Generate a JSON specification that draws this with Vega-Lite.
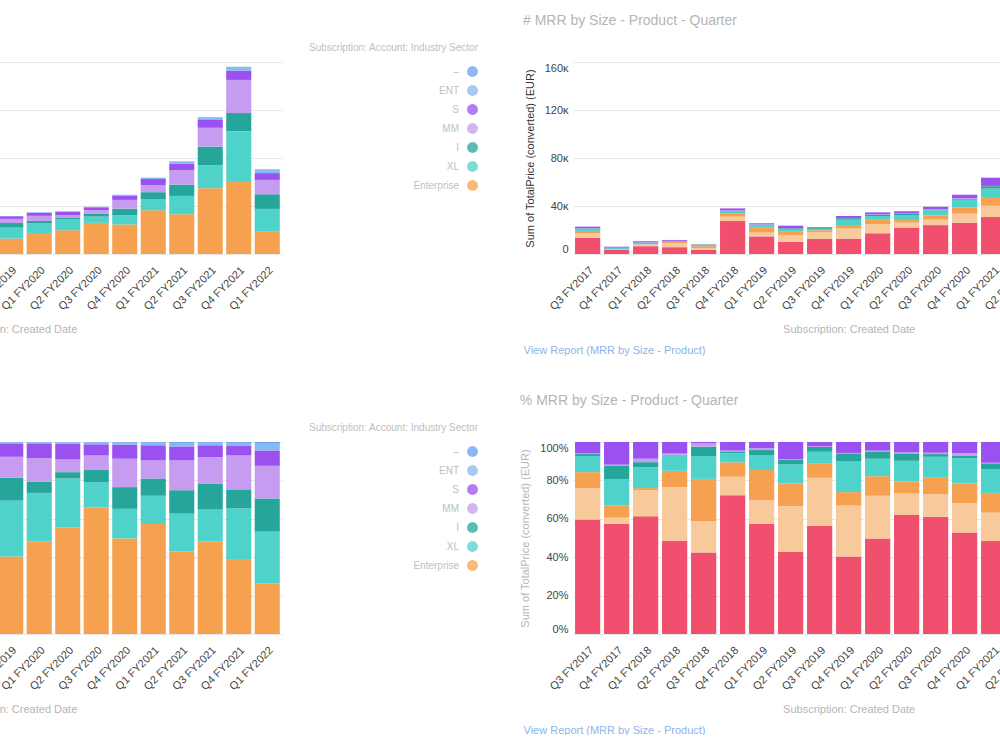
{
  "$schema": "https://vega.github.io/schema/vega-lite/v6.json",
  "padding": {"left": -314, "right": -117, "top": -5, "bottom": 0},
  "background": "white",
  "config": {
    "font": "Liberation Sans",
    "view": {"stroke": null},
    "title": {"anchor": "start", "fontSize": 14, "fontWeight": "normal", "color": "#b5b5b5", "offset": 34},
    "axis": {"labelColor": "#444444", "labelFontSize": 11, "titleFontSize": 11, "titleFontWeight": "normal", "domain": false, "ticks": false, "gridColor": "#e8e8e8"},
    "axisX": {"labelAngle": -45, "grid": false, "labelPadding": 10, "titleColor": "#b5b5b5", "titlePadding": 12},
    "axisY": {"labelPadding": 5, "titleColor": "#333333", "titlePadding": 9, "labelFlush": true},
    "legend": {"orient": "none", "legendX": 568, "legendY": -19, "titleFontSize": 10, "titleColor": "#c0c0c0", "titleFontWeight": "normal", "titleAnchor": "end", "labelAlign": "right", "labelOffset": -20, "labelFontSize": 10, "labelColor": "#c0c0c0", "symbolType": "circle", "symbolSize": 120, "symbolOpacity": 0.75, "rowPadding": 7, "titlePadding": 12}
  },
  "datasets": {
    "industry": [
      {"q":"Q3 FY2017","g":"Enterprise","v":11856},{"q":"Q3 FY2017","g":"XL","v":5472},{"q":"Q3 FY2017","g":"I","v":1824},{"q":"Q3 FY2017","g":"MM","v":2052},{"q":"Q3 FY2017","g":"S","v":1368},{"q":"Q3 FY2017","g":"ENT","v":182},{"q":"Q3 FY2017","g":"–","v":46},
      {"q":"Q4 FY2017","g":"Enterprise","v":2745},{"q":"Q4 FY2017","g":"XL","v":1708},{"q":"Q4 FY2017","g":"I","v":610},{"q":"Q4 FY2017","g":"MM","v":549},{"q":"Q4 FY2017","g":"S","v":427},{"q":"Q4 FY2017","g":"ENT","v":49},{"q":"Q4 FY2017","g":"–","v":12},
      {"q":"Q1 FY2018","g":"Enterprise","v":5300},{"q":"Q1 FY2018","g":"XL","v":2332},{"q":"Q1 FY2018","g":"I","v":954},{"q":"Q1 FY2018","g":"MM","v":1166},{"q":"Q1 FY2018","g":"S","v":742},{"q":"Q1 FY2018","g":"ENT","v":85},{"q":"Q1 FY2018","g":"–","v":21},
      {"q":"Q2 FY2018","g":"Enterprise","v":5499},{"q":"Q2 FY2018","g":"XL","v":2925},{"q":"Q2 FY2018","g":"I","v":1287},{"q":"Q2 FY2018","g":"MM","v":1170},{"q":"Q2 FY2018","g":"S","v":702},{"q":"Q2 FY2018","g":"ENT","v":94},{"q":"Q2 FY2018","g":"–","v":23},
      {"q":"Q3 FY2018","g":"Enterprise","v":3564},{"q":"Q3 FY2018","g":"XL","v":2187},{"q":"Q3 FY2018","g":"I","v":810},{"q":"Q3 FY2018","g":"MM","v":972},{"q":"Q3 FY2018","g":"S","v":486},{"q":"Q3 FY2018","g":"ENT","v":65},{"q":"Q3 FY2018","g":"–","v":16},
      {"q":"Q4 FY2018","g":"Enterprise","v":22800},{"q":"Q4 FY2018","g":"XL","v":6840},{"q":"Q4 FY2018","g":"I","v":3040},{"q":"Q4 FY2018","g":"MM","v":3040},{"q":"Q4 FY2018","g":"S","v":1900},{"q":"Q4 FY2018","g":"ENT","v":304},{"q":"Q4 FY2018","g":"–","v":76},
      {"q":"Q1 FY2019","g":"Enterprise","v":13568},{"q":"Q1 FY2019","g":"XL","v":5376},{"q":"Q1 FY2019","g":"I","v":2304},{"q":"Q1 FY2019","g":"MM","v":2560},{"q":"Q1 FY2019","g":"S","v":1536},{"q":"Q1 FY2019","g":"ENT","v":205},{"q":"Q1 FY2019","g":"–","v":51},
      {"q":"Q2 FY2019","g":"Enterprise","v":10856},{"q":"Q2 FY2019","g":"XL","v":5664},{"q":"Q2 FY2019","g":"I","v":2596},{"q":"Q2 FY2019","g":"MM","v":2596},{"q":"Q2 FY2019","g":"S","v":1652},{"q":"Q2 FY2019","g":"ENT","v":189},{"q":"Q2 FY2019","g":"–","v":47},
      {"q":"Q3 FY2019","g":"Enterprise","v":11100},{"q":"Q3 FY2019","g":"XL","v":5106},{"q":"Q3 FY2019","g":"I","v":2220},{"q":"Q3 FY2019","g":"MM","v":2220},{"q":"Q3 FY2019","g":"S","v":1332},{"q":"Q3 FY2019","g":"ENT","v":178},{"q":"Q3 FY2019","g":"–","v":44},
      {"q":"Q4 FY2019","g":"Enterprise","v":12807},{"q":"Q4 FY2019","g":"XL","v":9225},{"q":"Q4 FY2019","g":"I","v":3772},{"q":"Q4 FY2019","g":"MM","v":3455},{"q":"Q4 FY2019","g":"S","v":2219},{"q":"Q4 FY2019","g":"ENT","v":178},{"q":"Q4 FY2019","g":"–","v":44},
      {"q":"Q1 FY2020","g":"Enterprise","v":16760},{"q":"Q1 FY2020","g":"XL","v":8744},{"q":"Q1 FY2020","g":"I","v":2047},{"q":"Q1 FY2020","g":"MM","v":4233},{"q":"Q1 FY2020","g":"S","v":2672},{"q":"Q1 FY2020","g":"ENT","v":194},{"q":"Q1 FY2020","g":"–","v":49},
      {"q":"Q2 FY2020","g":"Enterprise","v":19794},{"q":"Q2 FY2020","g":"XL","v":9042},{"q":"Q2 FY2020","g":"I","v":1175},{"q":"Q2 FY2020","g":"MM","v":2350},{"q":"Q2 FY2020","g":"S","v":2884},{"q":"Q2 FY2020","g":"ENT","v":285},{"q":"Q2 FY2020","g":"–","v":71},
      {"q":"Q3 FY2020","g":"Enterprise","v":25965},{"q":"Q3 FY2020","g":"XL","v":5201},{"q":"Q3 FY2020","g":"I","v":2600},{"q":"Q3 FY2020","g":"MM","v":2876},{"q":"Q3 FY2020","g":"S","v":2285},{"q":"Q3 FY2020","g":"ENT","v":378},{"q":"Q3 FY2020","g":"–","v":95},
      {"q":"Q4 FY2020","g":"Enterprise","v":24601},{"q":"Q4 FY2020","g":"XL","v":7608},{"q":"Q4 FY2020","g":"I","v":5582},{"q":"Q4 FY2020","g":"MM","v":7311},{"q":"Q4 FY2020","g":"S","v":3606},{"q":"Q4 FY2020","g":"ENT","v":554},{"q":"Q4 FY2020","g":"–","v":138},
      {"q":"Q1 FY2021","g":"Enterprise","v":36443},{"q":"Q1 FY2021","g":"XL","v":9349},{"q":"Q1 FY2021","g":"I","v":5724},{"q":"Q1 FY2021","g":"MM","v":5978},{"q":"Q1 FY2021","g":"S","v":5024},{"q":"Q1 FY2021","g":"ENT","v":865},{"q":"Q1 FY2021","g":"–","v":216},
      {"q":"Q2 FY2021","g":"Enterprise","v":33196},{"q":"Q2 FY2021","g":"XL","v":15208},{"q":"Q2 FY2021","g":"I","v":9418},{"q":"Q2 FY2021","g":"MM","v":11966},{"q":"Q2 FY2021","g":"S","v":5636},{"q":"Q2 FY2021","g":"ENT","v":1421},{"q":"Q2 FY2021","g":"–","v":355},
      {"q":"Q3 FY2021","g":"Enterprise","v":54882},{"q":"Q3 FY2021","g":"XL","v":19055},{"q":"Q3 FY2021","g":"I","v":15518},{"q":"Q3 FY2021","g":"MM","v":15746},{"q":"Q3 FY2021","g":"S","v":6960},{"q":"Q3 FY2021","g":"ENT","v":1552},{"q":"Q3 FY2021","g":"–","v":388},
      {"q":"Q4 FY2021","g":"Enterprise","v":60840},{"q":"Q4 FY2021","g":"XL","v":41340},{"q":"Q4 FY2021","g":"I","v":15288},{"q":"Q4 FY2021","g":"MM","v":27612},{"q":"Q4 FY2021","g":"S","v":7644},{"q":"Q4 FY2021","g":"ENT","v":2621},{"q":"Q4 FY2021","g":"–","v":655},
      {"q":"Q1 FY2022","g":"Enterprise","v":18542},{"q":"Q1 FY2022","g":"XL","v":19035},{"q":"Q1 FY2022","g":"I","v":12197},{"q":"Q1 FY2022","g":"MM","v":11985},{"q":"Q1 FY2022","g":"S","v":5640},{"q":"Q1 FY2022","g":"ENT","v":2482},{"q":"Q1 FY2022","g":"–","v":620}
    ],
    "size": [
      {"q":"Q3 FY2017","g":"Large - Platform","v":13589},{"q":"Q3 FY2017","g":"Large - Add-on","v":3739},{"q":"Q3 FY2017","g":"Medium - Platform","v":1892},{"q":"Q3 FY2017","g":"Medium - Add-on","v":1915},{"q":"Q3 FY2017","g":"Small - Platform","v":228},{"q":"Q3 FY2017","g":"Small - Add-on","v":68},{"q":"Q3 FY2017","g":"Other","v":1368},
      {"q":"Q4 FY2017","g":"Large - Platform","v":3495},{"q":"Q4 FY2017","g":"Large - Add-on","v":201},{"q":"Q4 FY2017","g":"Medium - Platform","v":390},{"q":"Q4 FY2017","g":"Medium - Add-on","v":824},{"q":"Q4 FY2017","g":"Small - Platform","v":427},{"q":"Q4 FY2017","g":"Small - Add-on","v":43},{"q":"Q4 FY2017","g":"Other","v":720},
      {"q":"Q1 FY2018","g":"Large - Platform","v":6498},{"q":"Q1 FY2018","g":"Large - Add-on","v":1442},{"q":"Q1 FY2018","g":"Medium - Platform","v":117},{"q":"Q1 FY2018","g":"Medium - Add-on","v":1155},{"q":"Q1 FY2018","g":"Small - Platform","v":276},{"q":"Q1 FY2018","g":"Small - Add-on","v":191},{"q":"Q1 FY2018","g":"Other","v":922},
      {"q":"Q2 FY2018","g":"Large - Platform","v":5686},{"q":"Q2 FY2018","g":"Large - Add-on","v":3264},{"q":"Q2 FY2018","g":"Medium - Platform","v":995},{"q":"Q2 FY2018","g":"Medium - Add-on","v":936},{"q":"Q2 FY2018","g":"Small - Platform","v":47},{"q":"Q2 FY2018","g":"Small - Add-on","v":70},{"q":"Q2 FY2018","g":"Other","v":702},
      {"q":"Q3 FY2018","g":"Large - Platform","v":3443},{"q":"Q3 FY2018","g":"Large - Add-on","v":1328},{"q":"Q3 FY2018","g":"Medium - Platform","v":1774},{"q":"Q3 FY2018","g":"Medium - Add-on","v":964},{"q":"Q3 FY2018","g":"Small - Platform","v":397},{"q":"Q3 FY2018","g":"Small - Add-on","v":138},{"q":"Q3 FY2018","g":"Other","v":57},
      {"q":"Q4 FY2018","g":"Large - Platform","v":27474},{"q":"Q4 FY2018","g":"Large - Add-on","v":3648},{"q":"Q4 FY2018","g":"Medium - Platform","v":2850},{"q":"Q4 FY2018","g":"Medium - Add-on","v":1786},{"q":"Q4 FY2018","g":"Small - Platform","v":266},{"q":"Q4 FY2018","g":"Small - Add-on","v":266},{"q":"Q4 FY2018","g":"Other","v":1710},
      {"q":"Q1 FY2019","g":"Large - Platform","v":14669},{"q":"Q1 FY2019","g":"Large - Add-on","v":3174},{"q":"Q1 FY2019","g":"Medium - Platform","v":4019},{"q":"Q1 FY2019","g":"Medium - Add-on","v":1997},{"q":"Q1 FY2019","g":"Small - Platform","v":666},{"q":"Q1 FY2019","g":"Small - Add-on","v":230},{"q":"Q1 FY2019","g":"Other","v":845},
      {"q":"Q2 FY2019","g":"Large - Platform","v":10124},{"q":"Q2 FY2019","g":"Large - Add-on","v":5593},{"q":"Q2 FY2019","g":"Medium - Platform","v":2785},{"q":"Q2 FY2019","g":"Medium - Add-on","v":2336},{"q":"Q2 FY2019","g":"Small - Platform","v":590},{"q":"Q2 FY2019","g":"Small - Add-on","v":47},{"q":"Q2 FY2019","g":"Other","v":2124},
      {"q":"Q3 FY2019","g":"Large - Platform","v":12521},{"q":"Q3 FY2019","g":"Large - Add-on","v":5550},{"q":"Q3 FY2019","g":"Medium - Platform","v":1621},{"q":"Q3 FY2019","g":"Medium - Add-on","v":1376},{"q":"Q3 FY2019","g":"Small - Platform","v":555},{"q":"Q3 FY2019","g":"Small - Add-on","v":111},{"q":"Q3 FY2019","g":"Other","v":466},
      {"q":"Q4 FY2019","g":"Large - Platform","v":12807},{"q":"Q4 FY2019","g":"Large - Add-on","v":8401},{"q":"Q4 FY2019","g":"Medium - Platform","v":2219},{"q":"Q4 FY2019","g":"Medium - Add-on","v":5135},{"q":"Q4 FY2019","g":"Small - Platform","v":1268},{"q":"Q4 FY2019","g":"Small - Add-on","v":63},{"q":"Q4 FY2019","g":"Other","v":1807},
      {"q":"Q1 FY2020","g":"Large - Platform","v":17281},{"q":"Q1 FY2020","g":"Large - Add-on","v":7703},{"q":"Q1 FY2020","g":"Medium - Platform","v":3539},{"q":"Q1 FY2020","g":"Medium - Add-on","v":3158},{"q":"Q1 FY2020","g":"Small - Platform","v":1215},{"q":"Q1 FY2020","g":"Small - Add-on","v":243},{"q":"Q1 FY2020","g":"Other","v":1562},
      {"q":"Q2 FY2020","g":"Large - Platform","v":22072},{"q":"Q2 FY2020","g":"Large - Add-on","v":3987},{"q":"Q2 FY2020","g":"Medium - Platform","v":2207},{"q":"Q2 FY2020","g":"Medium - Add-on","v":3845},{"q":"Q2 FY2020","g":"Small - Platform","v":1388},{"q":"Q2 FY2020","g":"Small - Add-on","v":249},{"q":"Q2 FY2020","g":"Other","v":1851},
      {"q":"Q3 FY2020","g":"Large - Platform","v":24073},{"q":"Q3 FY2020","g":"Large - Add-on","v":4610},{"q":"Q3 FY2020","g":"Medium - Platform","v":3388},{"q":"Q3 FY2020","g":"Medium - Add-on","v":4295},{"q":"Q3 FY2020","g":"Small - Platform","v":552},{"q":"Q3 FY2020","g":"Small - Add-on","v":276},{"q":"Q3 FY2020","g":"Other","v":2206},
      {"q":"Q4 FY2020","g":"Large - Platform","v":26083},{"q":"Q4 FY2020","g":"Large - Add-on","v":7558},{"q":"Q4 FY2020","g":"Medium - Platform","v":5088},{"q":"Q4 FY2020","g":"Medium - Add-on","v":6521},{"q":"Q4 FY2020","g":"Small - Platform","v":692},{"q":"Q4 FY2020","g":"Small - Add-on","v":543},{"q":"Q4 FY2020","g":"Other","v":2915},
      {"q":"Q1 FY2021","g":"Large - Platform","v":30782},{"q":"Q1 FY2021","g":"Large - Add-on","v":9413},{"q":"Q1 FY2021","g":"Medium - Platform","v":6551},{"q":"Q1 FY2021","g":"Medium - Add-on","v":7759},{"q":"Q1 FY2021","g":"Small - Platform","v":2035},{"q":"Q1 FY2021","g":"Small - Add-on","v":191},{"q":"Q1 FY2021","g":"Other","v":6869},
      {"q":"Q2 FY2021","g":"Large - Platform","v":34740},{"q":"Q2 FY2021","g":"Large - Add-on","v":10808},{"q":"Q2 FY2021","g":"Medium - Platform","v":7720},{"q":"Q2 FY2021","g":"Medium - Add-on","v":10808},{"q":"Q2 FY2021","g":"Small - Platform","v":3088},{"q":"Q2 FY2021","g":"Small - Add-on","v":2316},{"q":"Q2 FY2021","g":"Other","v":7720},
      {"q":"Q3 FY2021","g":"Large - Platform","v":50204},{"q":"Q3 FY2021","g":"Large - Add-on","v":14833},{"q":"Q3 FY2021","g":"Medium - Platform","v":12551},{"q":"Q3 FY2021","g":"Medium - Add-on","v":17115},{"q":"Q3 FY2021","g":"Small - Platform","v":4564},{"q":"Q3 FY2021","g":"Small - Add-on","v":3423},{"q":"Q3 FY2021","g":"Other","v":11410},
      {"q":"Q4 FY2021","g":"Large - Platform","v":65520},{"q":"Q4 FY2021","g":"Large - Add-on","v":20280},{"q":"Q4 FY2021","g":"Medium - Platform","v":15600},{"q":"Q4 FY2021","g":"Medium - Add-on","v":24960},{"q":"Q4 FY2021","g":"Small - Platform","v":7800},{"q":"Q4 FY2021","g":"Small - Add-on","v":6240},{"q":"Q4 FY2021","g":"Other","v":15600},
      {"q":"Q1 FY2022","g":"Large - Platform","v":28200},{"q":"Q1 FY2022","g":"Large - Add-on","v":9870},{"q":"Q1 FY2022","g":"Medium - Platform","v":7755},{"q":"Q1 FY2022","g":"Medium - Add-on","v":11985},{"q":"Q1 FY2022","g":"Small - Platform","v":3525},{"q":"Q1 FY2022","g":"Small - Add-on","v":2115},{"q":"Q1 FY2022","g":"Other","v":7050}
    ]
  },
  "columns": 2,
  "spacing": {"row": 20, "column": 41},
  "resolve": {"scale": {"color": "independent", "x": "independent", "y": "independent"}, "legend": {"color": "independent"}},
  "concat": [
    {
      "title": "# MRR by Industry - Quarter",
      "data": {"name": "industry"},
      "transform": [{"calculate": "indexof(['Enterprise','XL','I','MM','S','ENT','–'], datum.g)", "as": "o"}],
      "width": {"step": 28.5},
      "height": 192,
      "resolve": {"axis": {"x": "independent"}},
      "layer": [
        {
          "mark": {"type": "bar"},
          "encoding": {
            "x": {"field": "q", "type": "ordinal", "title": "Subscription: Created Date", "sort": ["Q3 FY2017","Q4 FY2017","Q1 FY2018","Q2 FY2018","Q3 FY2018","Q4 FY2018","Q1 FY2019","Q2 FY2019","Q3 FY2019","Q4 FY2019","Q1 FY2020","Q2 FY2020","Q3 FY2020","Q4 FY2020","Q1 FY2021","Q2 FY2021","Q3 FY2021","Q4 FY2021","Q1 FY2022"], "scale": {"paddingInner": 0.12, "paddingOuter": 0.06}, "axis": {"orient": "bottom"}},
            "y": {"field": "v", "type": "quantitative", "stack": "zero", "title": "Sum of TotalPrice (converted) (EUR)", "scale": {"domain": [0, 160000]}, "axis": {"values": [0, 40000, 80000, 120000, 160000], "labelExpr": "datum.value == 0 ? '0' : (datum.value / 1000) + 'ĸ'"}},
            "color": {"field": "g", "type": "nominal", "title": "Subscription: Account: Industry Sector", "scale": {"domain": ["–","ENT","S","MM","I","XL","Enterprise"], "range": ["#6a9ef0","#86baf2","#9b50f0","#c59cf0","#26a69a","#4fd2c9","#f5a14f"]}},
            "order": {"field": "o", "type": "quantitative"}
          }
        },
        {
          "mark": {"type": "tick", "opacity": 0},
          "encoding": {
            "x": {"field": "q", "type": "ordinal", "sort": ["Q3 FY2017","Q4 FY2017","Q1 FY2018","Q2 FY2018","Q3 FY2018","Q4 FY2018","Q1 FY2019","Q2 FY2019","Q3 FY2019","Q4 FY2019","Q1 FY2020","Q2 FY2020","Q3 FY2020","Q4 FY2020","Q1 FY2021","Q2 FY2021","Q3 FY2021","Q4 FY2021","Q1 FY2022"], "axis": {"orient": "bottom", "offset": 82, "labels": false, "title": "View Report (MRR by Industry)", "titleColor": "#8fb3e8", "titleAlign": "left", "titleX": -50, "titlePadding": 8}}
          }
        }
      ]
    },
    {
      "title": "# MRR by Size - Product - Quarter",
      "data": {"name": "size"},
      "transform": [{"calculate": "indexof(['Large - Platform','Large - Add-on','Medium - Platform','Medium - Add-on','Small - Platform','Small - Add-on','Other'], datum.g)", "as": "o"}],
      "width": {"step": 29},
      "height": 192,
      "resolve": {"axis": {"x": "independent"}},
      "layer": [
        {
          "mark": {"type": "bar"},
          "encoding": {
            "x": {"field": "q", "type": "ordinal", "title": "Subscription: Created Date", "sort": ["Q3 FY2017","Q4 FY2017","Q1 FY2018","Q2 FY2018","Q3 FY2018","Q4 FY2018","Q1 FY2019","Q2 FY2019","Q3 FY2019","Q4 FY2019","Q1 FY2020","Q2 FY2020","Q3 FY2020","Q4 FY2020","Q1 FY2021","Q2 FY2021","Q3 FY2021","Q4 FY2021","Q1 FY2022"], "scale": {"paddingInner": 0.13, "paddingOuter": 0.07}, "axis": {"orient": "bottom"}},
            "y": {"field": "v", "type": "quantitative", "stack": "zero", "title": "Sum of TotalPrice (converted) (EUR)", "scale": {"domain": [0, 160000]}, "axis": {"values": [0, 40000, 80000, 120000, 160000], "labelExpr": "datum.value == 0 ? '0' : (datum.value / 1000) + 'ĸ'"}},
            "color": {"field": "g", "type": "nominal", "legend": null, "scale": {"domain": ["Large - Platform","Large - Add-on","Medium - Platform","Medium - Add-on","Small - Platform","Small - Add-on","Other"], "range": ["#f0506e","#f8c99b","#f5a14f","#4fd2c9","#26a69a","#c59cf0","#9b50f0"]}},
            "order": {"field": "o", "type": "quantitative"}
          }
        },
        {
          "mark": {"type": "tick", "opacity": 0},
          "encoding": {
            "x": {"field": "q", "type": "ordinal", "sort": ["Q3 FY2017","Q4 FY2017","Q1 FY2018","Q2 FY2018","Q3 FY2018","Q4 FY2018","Q1 FY2019","Q2 FY2019","Q3 FY2019","Q4 FY2019","Q1 FY2020","Q2 FY2020","Q3 FY2020","Q4 FY2020","Q1 FY2021","Q2 FY2021","Q3 FY2021","Q4 FY2021","Q1 FY2022"], "axis": {"orient": "bottom", "offset": 82, "labels": false, "title": "View Report (MRR by Size - Product)", "titleColor": "#8fb3e8", "titleAlign": "left", "titleX": -50, "titlePadding": 8}}
          }
        }
      ]
    },
    {
      "title": "% MRR by Industry - Quarter",
      "data": {"name": "industry"},
      "transform": [{"calculate": "indexof(['Enterprise','XL','I','MM','S','ENT','–'], datum.g)", "as": "o"}],
      "width": {"step": 28.5},
      "height": 192,
      "resolve": {"axis": {"x": "independent"}},
      "layer": [
        {
          "mark": {"type": "bar"},
          "encoding": {
            "x": {"field": "q", "type": "ordinal", "title": "Subscription: Created Date", "sort": ["Q3 FY2017","Q4 FY2017","Q1 FY2018","Q2 FY2018","Q3 FY2018","Q4 FY2018","Q1 FY2019","Q2 FY2019","Q3 FY2019","Q4 FY2019","Q1 FY2020","Q2 FY2020","Q3 FY2020","Q4 FY2020","Q1 FY2021","Q2 FY2021","Q3 FY2021","Q4 FY2021","Q1 FY2022"], "scale": {"paddingInner": 0.12, "paddingOuter": 0.06}, "axis": {"orient": "bottom"}},
            "y": {"field": "v", "type": "quantitative", "stack": "normalize", "title": "Sum of TotalPrice (converted) (EUR)", "axis": {"values": [0, 0.2, 0.4, 0.6, 0.8, 1], "format": ".0%", "titleColor": "#b5b5b5"}},
            "color": {"field": "g", "type": "nominal", "title": "Subscription: Account: Industry Sector", "scale": {"domain": ["–","ENT","S","MM","I","XL","Enterprise"], "range": ["#6a9ef0","#86baf2","#9b50f0","#c59cf0","#26a69a","#4fd2c9","#f5a14f"]}},
            "order": {"field": "o", "type": "quantitative"}
          }
        },
        {
          "mark": {"type": "tick", "opacity": 0},
          "encoding": {
            "x": {"field": "q", "type": "ordinal", "sort": ["Q3 FY2017","Q4 FY2017","Q1 FY2018","Q2 FY2018","Q3 FY2018","Q4 FY2018","Q1 FY2019","Q2 FY2019","Q3 FY2019","Q4 FY2019","Q1 FY2020","Q2 FY2020","Q3 FY2020","Q4 FY2020","Q1 FY2021","Q2 FY2021","Q3 FY2021","Q4 FY2021","Q1 FY2022"], "axis": {"orient": "bottom", "offset": 82, "labels": false, "title": "View Report (MRR by Industry)", "titleColor": "#8fb3e8", "titleAlign": "left", "titleX": -50, "titlePadding": 8}}
          }
        }
      ]
    },
    {
      "title": "% MRR by Size - Product - Quarter",
      "data": {"name": "size"},
      "transform": [{"calculate": "indexof(['Large - Platform','Large - Add-on','Medium - Platform','Medium - Add-on','Small - Platform','Small - Add-on','Other'], datum.g)", "as": "o"}],
      "width": {"step": 29},
      "height": 192,
      "resolve": {"axis": {"x": "independent"}},
      "layer": [
        {
          "mark": {"type": "bar"},
          "encoding": {
            "x": {"field": "q", "type": "ordinal", "title": "Subscription: Created Date", "sort": ["Q3 FY2017","Q4 FY2017","Q1 FY2018","Q2 FY2018","Q3 FY2018","Q4 FY2018","Q1 FY2019","Q2 FY2019","Q3 FY2019","Q4 FY2019","Q1 FY2020","Q2 FY2020","Q3 FY2020","Q4 FY2020","Q1 FY2021","Q2 FY2021","Q3 FY2021","Q4 FY2021","Q1 FY2022"], "scale": {"paddingInner": 0.13, "paddingOuter": 0.07}, "axis": {"orient": "bottom"}},
            "y": {"field": "v", "type": "quantitative", "stack": "normalize", "title": "Sum of TotalPrice (converted) (EUR)", "axis": {"values": [0, 0.2, 0.4, 0.6, 0.8, 1], "format": ".0%", "titleColor": "#b5b5b5"}},
            "color": {"field": "g", "type": "nominal", "legend": null, "scale": {"domain": ["Large - Platform","Large - Add-on","Medium - Platform","Medium - Add-on","Small - Platform","Small - Add-on","Other"], "range": ["#f0506e","#f8c99b","#f5a14f","#4fd2c9","#26a69a","#c59cf0","#9b50f0"]}},
            "order": {"field": "o", "type": "quantitative"}
          }
        },
        {
          "mark": {"type": "tick", "opacity": 0},
          "encoding": {
            "x": {"field": "q", "type": "ordinal", "sort": ["Q3 FY2017","Q4 FY2017","Q1 FY2018","Q2 FY2018","Q3 FY2018","Q4 FY2018","Q1 FY2019","Q2 FY2019","Q3 FY2019","Q4 FY2019","Q1 FY2020","Q2 FY2020","Q3 FY2020","Q4 FY2020","Q1 FY2021","Q2 FY2021","Q3 FY2021","Q4 FY2021","Q1 FY2022"], "axis": {"orient": "bottom", "offset": 82, "labels": false, "title": "View Report (MRR by Size - Product)", "titleColor": "#8fb3e8", "titleAlign": "left", "titleX": -50, "titlePadding": 8}}
          }
        }
      ]
    }
  ]
}
